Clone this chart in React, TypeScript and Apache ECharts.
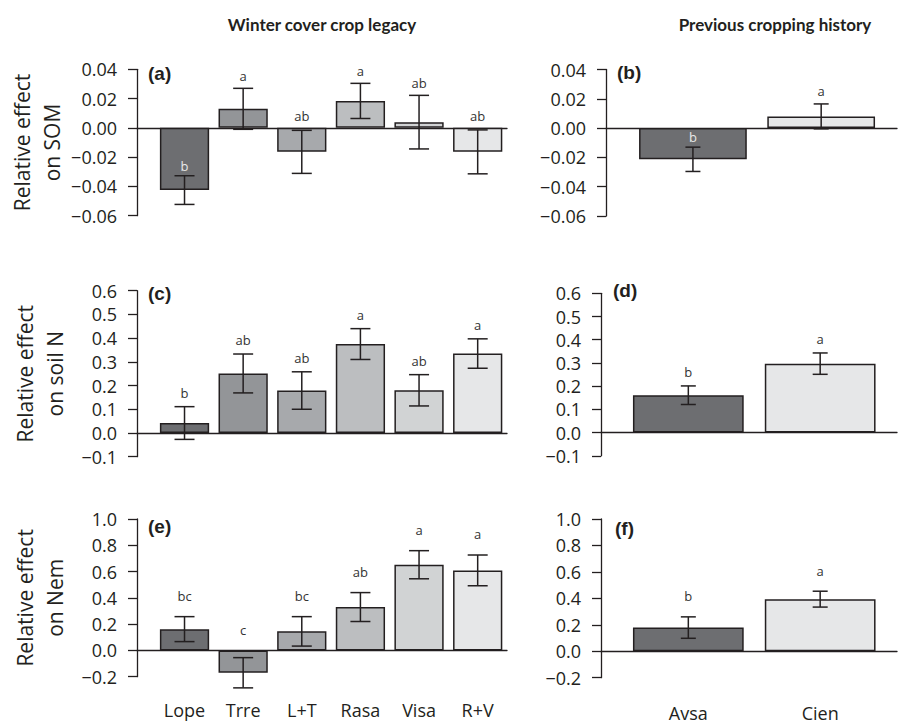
import React, { useEffect, useRef } from "react";
import * as echarts from "echarts";

// ---------- data ----------
const coverCrops = ["Lope", "Trre", "L+T", "Rasa", "Visa", "R+V"];
const historyCrops = ["Avsa", "Cien"];

const somCoverMean = [-0.0425, 0.013, -0.0164, 0.0184, 0.0039, -0.0164];
const somCoverSE = [0.0098, 0.014, 0.0147, 0.012, 0.0183, 0.015];
const somCoverLetters = ["b", "a", "ab", "a", "ab", "ab"];
const somCoverInside = [true, false, false, false, false, false];

const somHistMean = [-0.0213, 0.008];
const somHistSE = [0.0083, 0.0085];
const somHistLetters = ["b", "a"];
const somHistInside = [true, false];

const nCoverMean = [0.042, 0.251, 0.179, 0.375, 0.18, 0.335];
const nCoverSE = [0.069, 0.082, 0.079, 0.065, 0.066, 0.062];
const nCoverLetters = ["b", "ab", "ab", "a", "ab", "a"];

const nHistMean = [0.161, 0.297];
const nHistSE = [0.04, 0.046];
const nHistLetters = ["b", "a"];

const nemCoverMean = [0.162, -0.17, 0.145, 0.33, 0.652, 0.609];
const nemCoverSE = [0.095, 0.115, 0.112, 0.11, 0.107, 0.117];
const nemCoverLetters = ["bc", "c", "bc", "ab", "a", "a"];

const nemHistMean = [0.179, 0.394];
const nemHistSE = [0.081, 0.06];
const nemHistLetters = ["b", "a"];

const coverColors = ["#6d6e71", "#939598", "#a7a9ac", "#bcbec0", "#d1d3d4", "#e6e7e8"];
const historyColors = ["#6d6e71", "#e6e7e8"];

const somTicks = { min: -0.06, max: 0.04, interval: 0.02, decimals: 2 };
const nTicks = { min: -0.1, max: 0.6, interval: 0.1, decimals: 1 };
const nemTicks = { min: -0.2, max: 1.0, interval: 0.2, decimals: 1 };

// ---------- layout ----------
type Panel = {
  cats: string[];
  mean: number[];
  se: number[];
  letters: string[];
  inside: boolean[];
  colors: string[];
  ticks: { min: number; max: number; interval: number; decimals: number };
  axisX: number;
  lineRight: number;
  bandLeft: number;
  bandRight: number;
  top: number;
  bottom: number;
  cap: number;
  gap: number;
  showCats: boolean;
  catMargin: number;
  yName?: string;
  tag: string;
  tagX: number;
  tagY: number;
};

const noInside = (n: number) => new Array(n).fill(false);

const panels: Panel[] = [
  {
    cats: coverCrops, mean: somCoverMean, se: somCoverSE, letters: somCoverLetters,
    inside: somCoverInside, colors: coverColors, ticks: somTicks,
    axisX: 137, lineRight: 507, bandLeft: 155.2, bandRight: 507, top: 69.3, bottom: 215.7,
    cap: 20, gap: 12, showCats: false, catMargin: 25, yName: "Relative effect\non SOM",
    tag: "(a)", tagX: 148, tagY: 75,
  },
  {
    cats: historyCrops, mean: somHistMean, se: somHistSE, letters: somHistLetters,
    inside: somHistInside, colors: historyColors, ticks: somTicks,
    axisX: 606, lineRight: 897, bandLeft: 628.8, bandRight: 885.3, top: 69.5, bottom: 216,
    cap: 15, gap: 12.5, showCats: false, catMargin: 25,
    tag: "(b)", tagX: 617, tagY: 74,
  },
  {
    cats: coverCrops, mean: nCoverMean, se: nCoverSE, letters: nCoverLetters,
    inside: noInside(6), colors: coverColors, ticks: nTicks,
    axisX: 137, lineRight: 507, bandLeft: 155.2, bandRight: 507, top: 290.7, bottom: 456.7,
    cap: 20, gap: 14, showCats: false, catMargin: 25, yName: "Relative effect\non soil N",
    tag: "(c)", tagX: 148, tagY: 295,
  },
  {
    cats: historyCrops, mean: nHistMean, se: nHistSE, letters: nHistLetters,
    inside: noInside(2), colors: historyColors, ticks: nTicks,
    axisX: 601, lineRight: 897, bandLeft: 622.4, bandRight: 886.1, top: 293.3, bottom: 455.8,
    cap: 15, gap: 13.5, showCats: false, catMargin: 25,
    tag: "(d)", tagX: 613, tagY: 292,
  },
  {
    cats: coverCrops, mean: nemCoverMean, se: nemCoverSE, letters: nemCoverLetters,
    inside: noInside(6), colors: coverColors, ticks: nemTicks,
    axisX: 137, lineRight: 507, bandLeft: 155.2, bandRight: 507, top: 519, bottom: 676.7,
    cap: 20, gap: 20.7, showCats: true, catMargin: 24, yName: "Relative effect\non Nem",
    tag: "(e)", tagX: 148, tagY: 528,
  },
  {
    cats: historyCrops, mean: nemHistMean, se: nemHistSE, letters: nemHistLetters,
    inside: noInside(2), colors: historyColors, ticks: nemTicks,
    axisX: 601, lineRight: 897, bandLeft: 622.4, bandRight: 886.1, top: 519, bottom: 677.7,
    cap: 15, gap: 20.7, showCats: true, catMargin: 26,
    tag: "(f)", tagX: 615, tagY: 530,
  },
];

const INK = "#231f20";
const FONT = '"Open Sans", "Noto Sans", sans-serif';

function fmt(v: number, d: number) {
  const x = Math.abs(v) < 1e-9 ? 0 : v;
  const s = Math.abs(x).toFixed(d);
  return x < 0 ? "\u2212" + s : s;
}

function buildOption() {
  const grid: any[] = [];
  const xAxis: any[] = [];
  const yAxis: any[] = [];
  const series: any[] = [];
  const graphic: any[] = [];

  panels.forEach((p, i) => {
    const gA = i * 2;
    const gB = i * 2 + 1;
    const height = p.bottom - p.top;
    grid.push({ left: p.axisX, top: p.top, width: p.lineRight - p.axisX, height, containLabel: false });
    grid.push({ left: p.bandLeft, top: p.top, width: p.bandRight - p.bandLeft, height, containLabel: false });

    // grid A: axis frame and zero baseline
    xAxis.push({
      type: "value", gridIndex: gA, min: 0, max: 1,
      axisLine: { show: true, onZero: true, lineStyle: { color: INK, width: 1.3 } },
      axisTick: { show: false }, axisLabel: { show: false }, splitLine: { show: false },
    });
    yAxis.push({
      type: "value", gridIndex: gA, min: p.ticks.min, max: p.ticks.max, interval: p.ticks.interval,
      axisLine: { show: true, onZero: false, lineStyle: { color: INK, width: 1.3 } },
      axisTick: { show: true, inside: false, length: 9, lineStyle: { color: INK, width: 1.3 } },
      axisLabel: {
        show: true, margin: 20, color: INK, fontSize: 18, fontFamily: FONT,
        formatter: (v: number) => fmt(v, p.ticks.decimals),
      },
      splitLine: { show: false },
      name: p.yName || "",
      nameLocation: "middle",
      nameRotate: 90,
      nameGap: 67,
      nameTextStyle: { fontSize: 21, lineHeight: 30, fontFamily: FONT, color: INK },
    });

    // grid B: category band for the bars
    xAxis.push({
      type: "category", gridIndex: gB, data: p.cats,
      axisLine: { show: false, onZero: false }, axisTick: { show: false },
      axisLabel: { show: p.showCats, margin: p.catMargin, color: INK, fontSize: 18, fontFamily: FONT, interval: 0 },
      splitLine: { show: false },
    });
    yAxis.push({
      type: "value", gridIndex: gB, min: p.ticks.min, max: p.ticks.max, interval: p.ticks.interval,
      show: false,
    });

    series.push({
      type: "bar", xAxisIndex: gB, yAxisIndex: gB, barWidth: "84%",
      data: p.mean.map((m, k) => ({ value: m, itemStyle: { color: p.colors[k] } })),
      itemStyle: { borderColor: INK, borderWidth: 1.5 },
      z: 2,
    });

    const errData = p.mean.map((m, k) => [k, m - p.se[k], m + p.se[k]]);
    const cap = p.cap;
    series.push({
      type: "custom", xAxisIndex: gB, yAxisIndex: gB, z: 4,
      encode: { x: 0, y: [1, 2] },
      data: errData,
      renderItem: (_params: any, api: any) => {
        const x = api.value(0);
        const lo = api.coord([x, api.value(1)]);
        const hi = api.coord([x, api.value(2)]);
        const h = cap / 2;
        const style = { stroke: INK, lineWidth: 1.5 };
        return {
          type: "group",
          children: [
            { type: "line", shape: { x1: lo[0], y1: lo[1], x2: hi[0], y2: hi[1] }, style },
            { type: "line", shape: { x1: hi[0] - h, y1: hi[1], x2: hi[0] + h, y2: hi[1] }, style },
            { type: "line", shape: { x1: lo[0] - h, y1: lo[1], x2: lo[0] + h, y2: lo[1] }, style },
          ],
        };
      },
    });

    const letterData = p.mean.map((m, k) => {
      const top = m + p.se[k];
      return [k, p.inside[k] ? top : Math.max(0, top)];
    });
    const letters = p.letters;
    const inside = p.inside;
    const gap = p.gap;
    series.push({
      type: "custom", xAxisIndex: gB, yAxisIndex: gB, z: 5,
      encode: { x: 0, y: 1 },
      data: letterData,
      renderItem: (params: any, api: any) => {
        const pt = api.coord([api.value(0), api.value(1)]);
        const k = params.dataIndex;
        const isIn = inside[k];
        return {
          type: "text",
          x: pt[0],
          y: pt[1] - (isIn ? 10 : gap),
          style: {
            text: letters[k],
            fill: isIn ? "#e8e8e8" : "#333333",
            fontSize: 13,
            fontFamily: FONT,
            align: "center",
            verticalAlign: "middle",
          },
        };
      },
    });

    graphic.push({
      type: "text", left: p.tagX, top: p.tagY - 11,
      style: { text: p.tag, fill: INK, font: 'bold 19px "Liberation Sans", Arial, sans-serif' },
    });
  });

  graphic.push({
    type: "text", x: 322, y: 24,
    style: { text: "Winter cover crop legacy", fill: INK, font: 'bold 17px Lato, "Open Sans", sans-serif', align: "center", verticalAlign: "middle" },
  });
  graphic.push({
    type: "text", x: 775, y: 24,
    style: { text: "Previous cropping history", fill: INK, font: 'bold 17px Lato, "Open Sans", sans-serif', align: "center", verticalAlign: "middle" },
  });

  return { animation: false, backgroundColor: "#ffffff", grid, xAxis, yAxis, series, graphic };
}

export default function App() {
  const ref = useRef<HTMLDivElement>(null);
  useEffect(() => {
    document.body.style.margin = "0";
    if (!ref.current) return;
    const chart = echarts.init(ref.current, undefined, { renderer: "svg" });
    chart.setOption(buildOption() as any);
    return () => chart.dispose();
  }, []);
  return <div ref={ref} style={{ width: 898, height: 726 }} />;
}
